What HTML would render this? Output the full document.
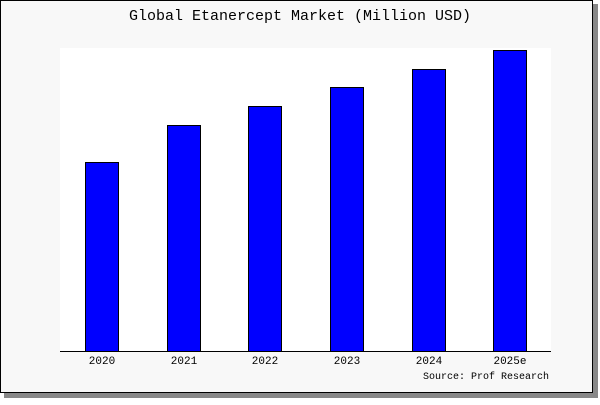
<!DOCTYPE html>
<html><head><style>
body{margin:0;width:600px;height:400px;background:#fff;overflow:hidden}
</style></head><body>
<svg width="600" height="400" xmlns="http://www.w3.org/2000/svg" font-family="Liberation Mono, monospace">
<rect x="4" y="4" width="594" height="394" fill="#888"/>
<rect x="0.5" y="0.5" width="592" height="392" fill="#f8f8f8" stroke="#000"/>
<rect x="60" y="48" width="491" height="303" fill="#fff"/>
<text x="300" y="20" text-anchor="middle" font-size="15">Global Etanercept Market (Million USD)</text>
<g fill="#0000ff" stroke="#000" stroke-width="1">
<rect x="85.5" y="162.5" width="33" height="189"/>
<rect x="167.5" y="125.5" width="33" height="226"/>
<rect x="248.5" y="106.5" width="33" height="245"/>
<rect x="330.5" y="87.5" width="33" height="264"/>
<rect x="412.5" y="69.5" width="33" height="282"/>
<rect x="493.5" y="50.5" width="33" height="301"/>
</g>
<line x1="60" y1="351.5" x2="551" y2="351.5" stroke="#000"/>
<g font-size="11" text-anchor="middle">
<text x="102" y="364">2020</text>
<text x="184" y="364">2021</text>
<text x="265" y="364">2022</text>
<text x="347" y="364">2023</text>
<text x="429" y="364">2024</text>
<text x="510" y="364">2025e</text>
<text x="549" y="379" text-anchor="end" font-size="10">Source: Prof Research</text>
</g>
</svg>
</body></html>
